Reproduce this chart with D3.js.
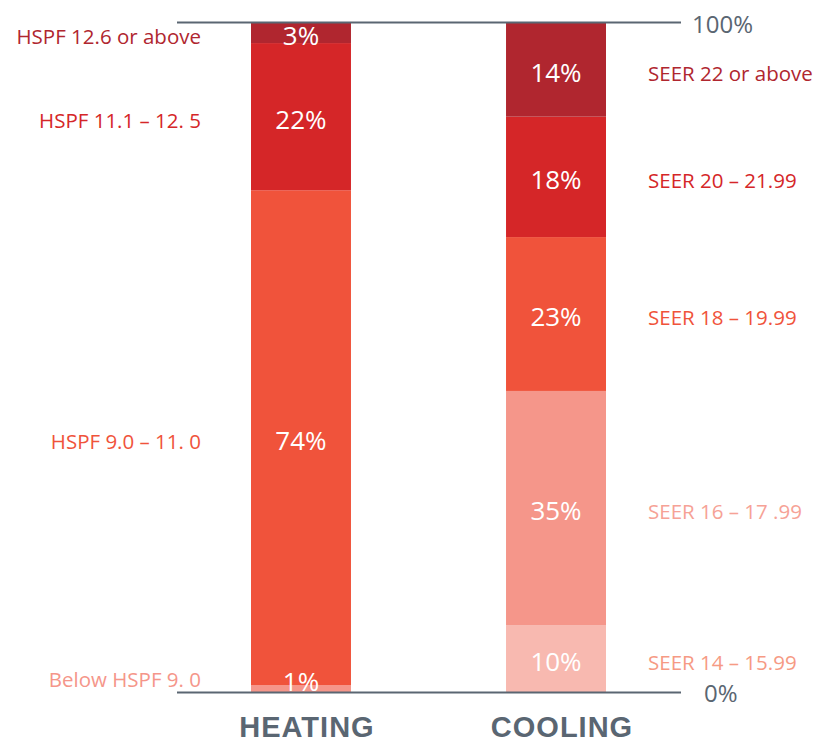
<!DOCTYPE html>
<html>
<head>
<meta charset="utf-8">
<script src="https://cdn.jsdelivr.net/npm/d3@7"></script>
<style>
  body { margin: 0; background: #fff; }
  text { font-family: 'Open Sans', 'Noto Sans', sans-serif; }
</style>
</head>
<body>
<div id="draw"></div>
<script>
// data, bottom segment first
const groups = ['HEATING', 'COOLING']
const heatingValues = [1, 74, 22, 3]
const heatingLabels = ['Below HSPF 9. 0', 'HSPF 9.0 – 11. 0', 'HSPF 11.1 – 12. 5', 'HSPF 12.6 or above']
const coolingValues = [10, 35, 23, 18, 14]
const coolingLabels = ['SEER 14 – 15.99', 'SEER 16 – 17 .99', 'SEER 18 – 19.99', 'SEER 20 – 21.99', 'SEER 22 or above']
const axisTicks = [0, 100]

const heatingColors = ['#F5968A', '#F0533B', '#D52628', '#B0262F']
const coolingColors = ['#F8B9B0', '#F5968A', '#F0533B', '#D52628', '#B0262F']
const coolingTextColors = ['#F69A84', '#F6A296', '#F0533B', '#D52628', '#B0262F']

const width = 826
const height = 742
const grey = '#5A6672'

let svg = d3.select('#draw')
  .append('svg')
  .attr('width', width)
  .attr('height', height)

let x = d3.scaleBand()
  .domain(groups)
  .range([251, 606])
  .paddingInner(0.608)
  .paddingOuter(0)

let y = d3.scaleLinear().domain([0, 100]).range([692, 23])

function stackUp (values) {
  let acc = 0
  return values.map(function (v, i) {
    let s = { i: i, v: v, y0: acc, y1: acc + v }
    acc += v
    return s
  })
}

let series = [
  { key: 'HEATING', segs: stackUp(heatingValues), colors: heatingColors, labels: heatingLabels, textColors: heatingColors, side: 'left' },
  { key: 'COOLING', segs: stackUp(coolingValues), colors: coolingColors, labels: coolingLabels, textColors: coolingTextColors, side: 'right' }
]

series.forEach(function (s) {
  let g = svg.append('g').attr('class', 'bar ' + s.key)

  g.selectAll('rect')
    .data(s.segs)
    .enter().append('rect')
    .attr('x', x(s.key))
    .attr('width', x.bandwidth())
    .attr('y', function (d) { return y(d.y1) })
    .attr('height', function (d) { return y(d.y0) - y(d.y1) })
    .style('fill', function (d) { return s.colors[d.i] })

  // percent inside bar
  g.selectAll('text.pct')
    .data(s.segs)
    .enter().append('text')
    .attr('class', 'pct')
    .attr('x', x(s.key) + x.bandwidth() / 2)
    .attr('y', function (d) { return Math.min((y(d.y0) + y(d.y1)) / 2 + 3, y(0) - 10) })
    .attr('dy', '0.35em')
    .style('text-anchor', 'middle')
    .style('font-size', '26px')
    .style('fill', '#fff')
    .text(function (d) { return d.v + '%' })

  // category labels
  g.selectAll('text.cat')
    .data(s.segs)
    .enter().append('text')
    .attr('class', 'cat')
    .attr('x', s.side === 'left' ? 201 : 648)
    .attr('y', function (d) { return Math.min((y(d.y0) + y(d.y1)) / 2 + 4, y(0) - 12) })
    .attr('dy', '0.35em')
    .style('text-anchor', s.side === 'left' ? 'end' : 'start')
    .style('font-size', '20.5px')
    .style('fill', function (d) { return s.textColors[d.i] })
    .text(function (d) { return s.labels[d.i] })
})

// baseline and top lines
svg.selectAll('line.rule')
  .data(axisTicks)
  .enter().append('line')
  .attr('class', 'rule')
  .attr('x1', 177)
  .attr('x2', 681)
  .attr('y1', function (d) { return d === 0 ? y(d) + 0.5 : y(d) - 0.5 })
  .attr('y2', function (d) { return d === 0 ? y(d) + 0.5 : y(d) - 0.5 })
  .style('stroke', grey)
  .style('stroke-width', 2)

svg.selectAll('text.tick')
  .data(axisTicks)
  .enter().append('text')
  .attr('class', 'tick')
  .attr('x', function (d) { return d === 0 ? 704 : 692 })
  .attr('y', function (d) { return y(d) + 2 })
  .attr('dy', '0.35em')
  .style('font-size', '24px')
  .style('fill', grey)
  .text(function (d) { return d + '%' })

// group names
svg.selectAll('text.group')
  .data(groups)
  .enter().append('text')
  .attr('class', 'group')
  .attr('x', function (d) { return x(d) + x.bandwidth() / 2 + 6 })
  .attr('y', 737)
  .style('text-anchor', 'middle')
  .style('font-family', "'Liberation Sans', Arial, sans-serif")
  .style('font-weight', 'bold')
  .style('font-size', '29px')
  .style('letter-spacing', '1px')
  .style('fill', grey)
  .text(function (d) { return d })
</script>
</body>
</html>
